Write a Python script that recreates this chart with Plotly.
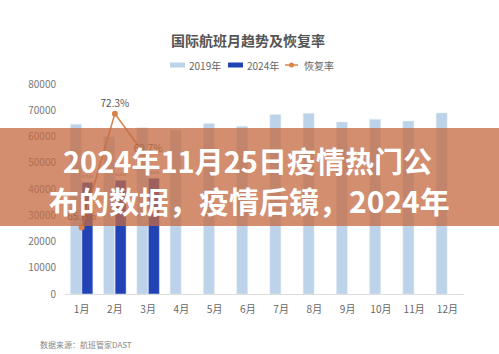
import plotly.graph_objects as go

months = ["1月", "2月", "3月", "4月", "5月", "6月", "7月", "8月", "9月", "10月", "11月", "12月"]
flights_2019 = [64700, 59900, 63300, 62500, 65000, 63900, 68400, 68900, 65500, 66600, 65900, 69000]
flights_2024 = [42533, 43333, 44125, None, None, None, None, None, None, None, None, None]
recovery = [65.8, 72.3, 69.7, None, None, None, None, None, None, None, None, None]
recovery_labels = ["65.8%", "72.3%", "69.7%"] + [""] * 9
bar24_labels = ["42533", "43333", "44125"] + [""] * 9
legend_names = ["2019年", "2024年", "恢复率"]

C19, C24, CREC = "#BDD3EA", "#2143B6", "#D9834B"

W, H = 499, 354
ml, mr, mt, mb = 65, 35, 84, 60
pw, ph = W - ml - mr, H - mt - mb

def px_x(x):
    return (x - ml) / pw

def px_y(y):
    return (H - mb - y) / ph

CJK = "Noto Sans CJK SC"

fig = go.Figure()
fig.add_trace(go.Bar(
    x=months, y=flights_2019, name=legend_names[0],
    marker=dict(color=C19),
))
fig.add_trace(go.Bar(
    x=months, y=flights_2024, name=legend_names[1],
    marker=dict(color=C24),
    text=bar24_labels, textposition="outside", cliponaxis=False,
    textfont=dict(size=10, color="#666666", family=CJK),
))
fig.add_trace(go.Scatter(
    x=months, y=recovery, name=legend_names[2], yaxis="y2",
    mode="lines+markers+text",
    line=dict(color=CREC, width=1.5),
    marker=dict(color=CREC, size=6),
    text=recovery_labels, textposition="top center",
    textfont=dict(size=10, color="#555555", family=CJK),
    cliponaxis=False,
))

fig.update_layout(
    width=W, height=H,
    margin=dict(l=ml, r=mr, t=mt, b=mb, autoexpand=False),
    paper_bgcolor="white", plot_bgcolor="white",
    barmode="group", bargap=0.31, bargroupgap=0.04,
    font=dict(family=CJK, color="#666666", size=10),
    title=dict(text="<b>国际航班月趋势及恢复率</b>", x=248 / W, xref="container", xanchor="center",
               y=1 - 41 / H, yref="container", yanchor="middle",
               font=dict(size=14, color="#555555", family=CJK)),
    showlegend=False,
    xaxis=dict(range=[-0.5, 11.5], showgrid=False, showline=True, linecolor="#DDDDDD", linewidth=1,
               ticks="", tickfont=dict(size=10, color="#666666"), ticklabelstandoff=6,
               automargin=False),
    yaxis=dict(range=[0, 80000], dtick=10000, tickformat="d", showgrid=False,
               zeroline=False, showline=False, ticks="",
               tickfont=dict(size=10, color="#777777"), ticklabelstandoff=8,
               automargin=False),
    yaxis2=dict(range=[62, 74], overlaying="y", side="right", visible=False),
)

# custom legend
ly = px_y(65)
fig.add_shape(type="rect", xref="paper", yref="paper", x0=px_x(170), x1=px_x(185),
              y0=px_y(67.5), y1=px_y(62.5), fillcolor=C19, line=dict(width=0))
fig.add_shape(type="rect", xref="paper", yref="paper", x0=px_x(228), x1=px_x(243),
              y0=px_y(67.5), y1=px_y(62.5), fillcolor=C24, line=dict(width=0))
fig.add_shape(type="line", xref="paper", yref="paper", x0=px_x(285), x1=px_x(298),
              y0=ly, y1=ly, line=dict(color=CREC, width=1.5))
fig.add_shape(type="circle", xref="paper", yref="paper", x0=px_x(289), x1=px_x(294),
              y0=px_y(67.5), y1=px_y(62.5), fillcolor=CREC, line=dict(width=0))
for name, lx in zip(legend_names, [187, 245, 302]):
    fig.add_annotation(text=name, xref="paper", yref="paper", x=px_x(lx), y=ly,
                       xanchor="left", yanchor="middle", showarrow=False,
                       font=dict(size=10, color="#666666", family=CJK))

# overlay band
fig.add_shape(type="rect", xref="paper", yref="paper",
              x0=px_x(0), x1=px_x(W), y0=px_y(226), y1=px_y(128),
              fillcolor="rgba(196,106,66,0.76)", line=dict(width=0), layer="above")

fig.add_annotation(text="<b>2024年11月25日疫情热门公</b>", xref="paper", yref="paper",
                   x=px_x(247), y=px_y(160), xanchor="center", yanchor="middle",
                   showarrow=False, font=dict(size=29, color="white", family=CJK))
fig.add_annotation(text="<b>布的数据，疫情后镜，2024年</b>", xref="paper", yref="paper",
                   x=px_x(249), y=px_y(200), xanchor="center", yanchor="middle",
                   showarrow=False, font=dict(size=30, color="white", family=CJK))

fig.add_annotation(text="数据来源：航班管家DAST", xref="paper", yref="paper",
                   x=px_x(38), y=px_y(344), xanchor="left", yanchor="middle",
                   showarrow=False, font=dict(size=8, color="#888888", family=CJK))

fig.write_html("out.html")
